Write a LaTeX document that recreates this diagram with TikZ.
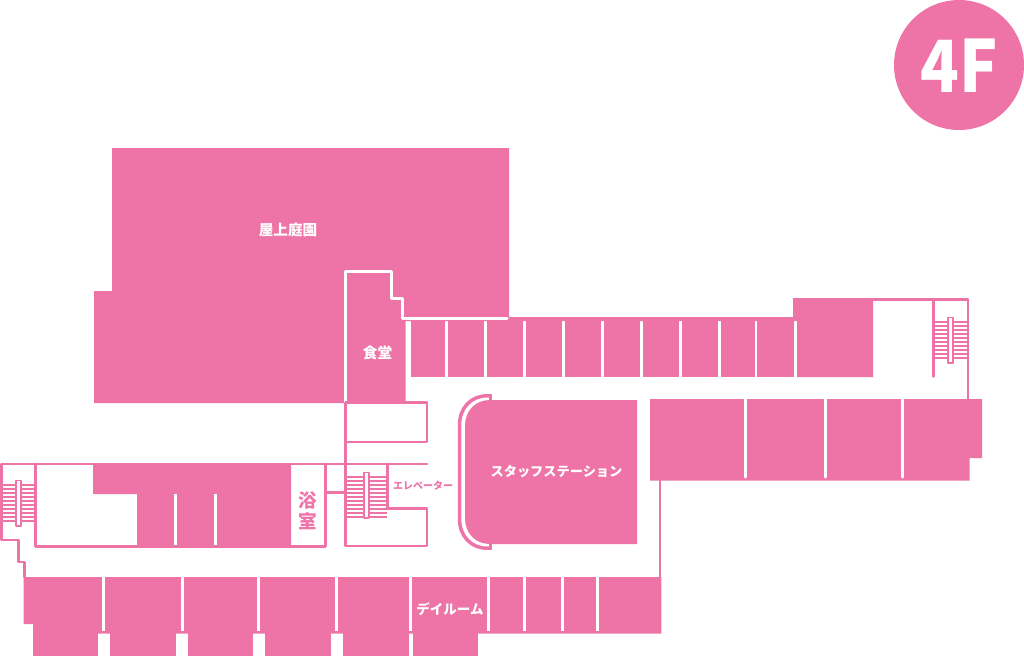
\documentclass[tikz,border=0pt]{standalone}
\usepackage{fontspec}
\setmainfont{Noto Sans CJK JP}
\newfontfamily\heavyfont{Noto Sans CJK JP Black}
\definecolor{floorpink}{HTML}{EE74A8}
\tikzset{
	room/.style={fill=floorpink},
	wall/.style={draw=floorpink,line width=2.9pt},
	gap/.style={draw=white,line width=3pt},
	stairline/.style={draw=floorpink,line width=2pt,line cap=butt},
	stairrail/.style={draw=floorpink,fill=white,line width=1.8pt},
	roomlabel/.style={text=white,font=\bfseries\fontsize{14.6}{15}\selectfont,inner sep=0pt},
	pinklabel/.style={text=floorpink,font=\bfseries,inner sep=0pt},
}
\begin{document}
\begin{tikzpicture}[x=1pt,y=-1pt,line join=round,line cap=round]
	\useasboundingbox (0,0) rectangle (1024,656);
	\fill[room] (959,65) circle(65pt);
	\node[text=white,font=\heavyfont\fontsize{72}{72}\selectfont,inner sep=0pt] (floor) at (959,65.5) {\scalebox{.885}[1]{4F}};
	% garden and dining room
	\fill[room] (112,148)--(509,148)--(509,321)--(405.5,321)--(405.5,403)--(94,403)--(94,291)--(112,291)--cycle;
	\draw[gap] (345.7,403)--(345.7,271)--(391,271)--(391,298.5)--(402.8,298.5)--(402.8,318.8)--(507,318.8);
	\node[roomlabel] (garden) at (288,230) {屋上庭園};
	\node[roomlabel] (dining) at (377.5,352.5) {食堂};
	% north rooms
	\fill[room] (509,317)--(793,317)--(793,298)--(873,298)--(873,377)--(797,377)--(797,321)--(509,321)--cycle;
	\foreach \xa/\xb in {411/445,448/484,487/523,526/562,565/601,604/640,643/679,682/718,721/754.5,757/794}
	\fill[room] (\xa,321) rectangle (\xb,377);
	% east rooms
	\fill[room] (650,399)--(982,399)--(982,458)--(969.5,458)--(969.5,480.5)--(650,480.5)--cycle;
	\foreach \x in {745.5,825.5,902}
	\draw[gap] (\x,399)--(\x,477);
	% east stairs and walls
	\draw[wall] (794,299.4)--(968,299.4)--(968,400);
	\draw[wall] (933.5,300)--(933.5,376.5);
	\foreach \y in {322,326,...,360}
	\draw[stairline] (935,\y)--(967,\y);
	\draw[stairrail] (947.8,317.5) rectangle (953,363);
	% staff station
	\fill[room] (637,400)--(637,544)--(490,544) .. controls (475,544) and (465,533) .. (465,518)--(465,426) .. controls (465,411) and (475,400) .. (490,400)--cycle;
	\draw[wall,line width=3.5pt,line cap=butt] (491,395.8)--(487,395.8) .. controls (471,395.8) and (459.5,408) .. (459.5,425)--(459.5,519) .. controls (459.5,536) and (471,548.2) .. (487,548.2)--(491,548.2);
	\fill[room] (488.5,394) rectangle (491.8,400);
	\fill[room] (488.5,544) rectangle (491.8,550);
	\node[roomlabel,font=\bfseries\fontsize{13.2}{14}\selectfont] (station) at (556.5,471.5) {スタッフステーション};
	% west wing
	\fill[room] (93,464)--(291,464)--(291,546)--(137,546)--(137,494)--(93,494)--cycle;
	\foreach \x in {175.7,215.7}
	\draw[gap,line cap=butt] (\x,494)--(\x,545);
	\draw[wall] (24.5,577)--(24.5,562)--(18.7,562)--(18.7,540)--(1.4,540)--(1.4,464)--(427,464);
	\draw[wall] (35.5,464)--(35.5,546.5)--(325.5,546.5)--(325.5,464);
	\draw[wall] (325.5,492.3)--(346,492.3);
	\foreach \y in {485,489,...,521}
	\draw[stairline] (3,\y)--(35,\y);
	\draw[stairrail] (15.8,480.5) rectangle (21,526);
	\node[pinklabel,font=\bfseries\fontsize{18.5}{20.5}\selectfont,align=center] (bath) at (307.5,510.5) {浴\\室};
	% elevator hall
	\draw[wall] (345.7,403)--(345.7,546)--(427,546)--(427,508.5)--(387.8,508.5)--(387.8,464);
	\draw[wall] (345.7,402.5)--(427,402.5)--(427,442)--(345.7,442);
	\foreach \y in {477,481,...,517}
	\draw[stairline] (347,\y)--(387,\y);
	\draw[stairrail] (364,472.5) rectangle (369.2,518);
	\node[pinklabel,font=\bfseries\fontsize{10}{11}\selectfont] (elevator) at (423,485.5) {エレベーター};
	% south rooms
	\draw[wall] (660,480)--(660,578);
	\fill[room] (23.5,577)--(661.3,577)--(661.3,633.5)--(33,633.5)--(33,624)--(23.5,624)--cycle;
	\foreach \x in {103.5,182.3,258.7,336.5,410.5,488.5,524.5,562.5,597.7}
	\draw[gap,line cap=butt] (\x,577)--(\x,630.5);
	\foreach \xa/\xb in {33/98.3,110.3/176,187.7/253.3,265/330.7,343.3/409,412.7/478.3}
	\fill[room] (\xa,633) rectangle (\xb,655.5);
	\node[roomlabel,font=\bfseries\fontsize{13.5}{14}\selectfont] (dayroom) at (450,609) {デイルーム};
\end{tikzpicture}
\end{document}
